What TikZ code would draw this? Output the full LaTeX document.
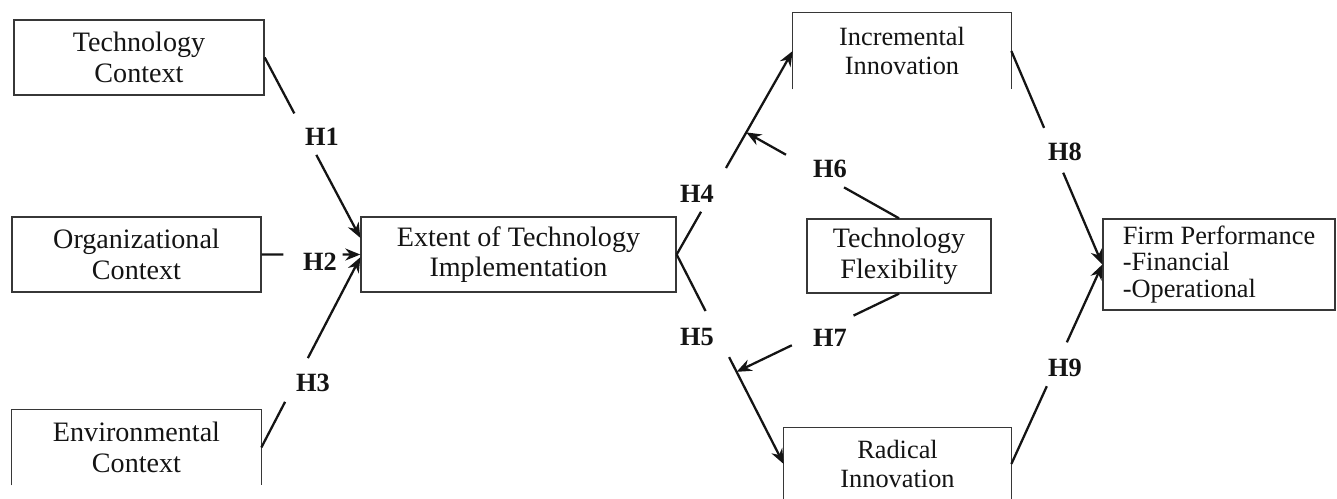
\documentclass[tikz,border=0pt]{standalone}
\usepackage{fontspec}
\setmainfont{Liberation Serif}
\usetikzlibrary{positioning,arrows.meta,calc}
\definecolor{ink}{RGB}{20,20,20}
\definecolor{rim}{RGB}{55,55,55}
\tikzset{
    box/.style={rectangle,draw=rim,line width=0.8pt,inner sep=0pt,align=center,text=ink,font=\fontsize{16}{17.5}\selectfont},
    openbox/.style={rectangle,inner sep=0pt,align=center,text=ink,font=\fontsize{15}{16}\selectfont},
    sides/.style={draw=rim,line width=0.8pt},
    hyp/.style={inner sep=1pt,text=ink,font=\bfseries\fontsize{15}{16}\selectfont},
    link/.style={line width=1.3pt,draw=ink},
    arr/.style={link,-{Stealth[length=3mm,width=2.4mm]}},
}
\begin{document}
\begin{tikzpicture}[x=0.02cm,y=-0.02cm]
\useasboundingbox (0,0) rectangle (1337,498);
% contexts
\node[box,minimum width=5cm,minimum height=1.5cm] (tech) at (139,57.5) {Technology\\Context};
\node[box,minimum width=4.98cm,minimum height=1.5cm] (org) at (136.5,254.5) {Organizational\\Context};
\node[openbox,font=\fontsize{16}{17.5}\selectfont,minimum width=4.98cm,minimum height=1.5cm] (env) at (136.5,447.5) {Environmental\\Context};
\draw[sides] (env.south west) |- (env.north east) -- (env.south east);
% middle
\node[box,minimum width=6.3cm,minimum height=1.5cm] (ext) at (518.5,254.5) {Extent of Technology\\Implementation};
\node[openbox,minimum width=4.36cm,minimum height=1.52cm] (inc) at (902,51) {Incremental\\Innovation};
\draw[sides] (inc.south west) |- (inc.north east) -- (inc.south east);
\node[box,minimum width=3.68cm,minimum height=1.48cm] (flex) at (899,256) {Technology\\Flexibility};
\node[openbox,minimum width=4.54cm,minimum height=1.44cm] (rad) at (897.5,464) {Radical\\Innovation};
\draw[sides] (rad.south west) |- (rad.north east) -- (rad.south east);
\node[box,align=left,minimum width=4.64cm,minimum height=1.82cm,font=\fontsize{15}{15}\selectfont] (firm) at (1219,264.5) {Firm Performance\\-Financial\\-Operational};
% hypothesis labels
\node[hyp] (h1) at (322,137) {H1};
\node[hyp] (h2) at (320,262) {H2};
\node[hyp] (h3) at (313,383) {H3};
\node[hyp] (h4) at (697,194) {H4};
\node[hyp] (h5) at (697,337) {H5};
\node[hyp] (h6) at (830,169) {H6};
\node[hyp] (h7) at (830,338) {H7};
\node[hyp] (h8) at (1065,152) {H8};
\node[hyp] (h9) at (1065,368) {H9};
% moderation points
\coordinate (m4) at ($(ext.east)!0.6!(inc.west)$);
\coordinate (m5) at ($(ext.east)!0.56!(rad.west)$);
% paths
\draw[link] (tech.east) -- ($(tech.east)!0.31!(ext.174)$);
\draw[arr] ($(tech.east)!0.54!(ext.174)$) -- (ext.174);
\draw[link] (org.east) -- ($(org.east)!0.22!(ext.west)$);
\draw[arr] ($(org.east)!0.82!(ext.west)$) -- (ext.west);
\draw[link] (env.east) -- ($(env.east)!0.24!(ext.181)$);
\draw[arr] ($(env.east)!0.47!(ext.181)$) -- (ext.181);
\draw[link] (ext.east) -- ($(ext.east)!0.21!(inc.west)$);
\draw[arr] ($(ext.east)!0.425!(inc.west)$) -- (inc.west);
\draw[link] (ext.east) -- ($(ext.east)!0.27!(rad.west)$);
\draw[arr] ($(ext.east)!0.49!(rad.west)$) -- (rad.west);
\draw[link] (flex.north) -- ($(flex.north)!0.36!(m4)$);
\draw[arr] ($(flex.north)!0.74!(m4)$) -- (m4);
\draw[link] (flex.south) -- ($(flex.south)!0.28!(m5)$);
\draw[arr] ($(flex.south)!0.66!(m5)$) -- (m5);
\draw[link] (inc.east) -- ($(inc.east)!0.36!(firm.west)$);
\draw[arr] ($(inc.east)!0.57!(firm.west)$) -- (firm.west);
\draw[link] (rad.east) -- ($(rad.east)!0.39!(firm.west)$);
\draw[arr] ($(rad.east)!0.61!(firm.west)$) -- (firm.west);
\end{tikzpicture}
\end{document}
